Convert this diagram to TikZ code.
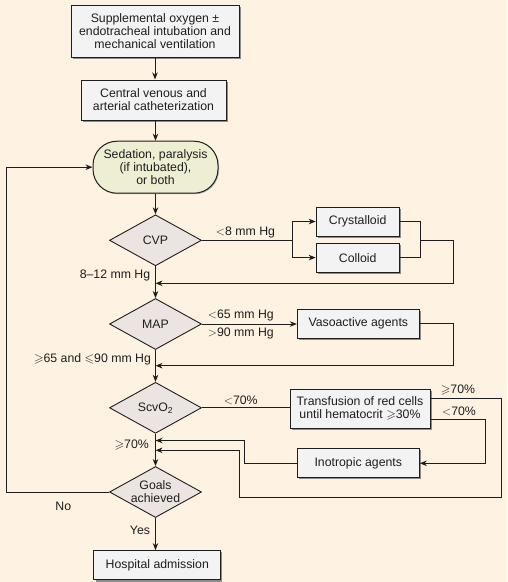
\documentclass[tikz,border=0pt]{standalone}
\usepackage{fontspec}
\setmainfont{Liberation Sans}
\usepackage{amssymb}
\usetikzlibrary{arrows.meta,shapes.geometric,shadows}
\definecolor{bg}{HTML}{FEF3E2}
\definecolor{boxfill}{HTML}{F3F3F3}
\definecolor{diafill}{HTML}{ECE4E0}
\definecolor{stadfill}{HTML}{EEEED2}
\definecolor{linec}{HTML}{1E1E1E}
\begin{document}
\begin{tikzpicture}[x=1pt,y=-1pt,
  font=\fontsize{12.3}{13}\selectfont,
  every node/.style={inner sep=0pt, align=center, text=linec},
  shad/.style={drop shadow={shadow xshift=1.6pt,shadow yshift=-1.6pt,fill=black!45,opacity=1}},
  lshad/.style={drop shadow={shadow xshift=1pt,shadow yshift=-1pt,fill=black!30,opacity=1}},
  box/.style={rectangle, draw=linec, line width=1pt, fill=boxfill, shad},
  dia/.style={diamond, draw=linec, line width=0.9pt, fill=diafill},
  stad/.style={rectangle, rounded corners=24pt, draw=linec, line width=1pt, fill=stadfill, lshad},
  conn/.style={draw=linec, line width=0.9pt},
  arr/.style={conn, -{Stealth[length=7pt,width=5.5pt,inset=2.2pt]}},
  lbl/.style={inner sep=0pt}
]
\useasboundingbox (0,0) rectangle (507,582);
\fill[bg] (0,0) rectangle (507,582);

% main column
\node[box, minimum width=168pt, minimum height=52pt] (b1) at (155,31)
  {Supplemental oxygen \textpm\\endotracheal intubation and\\mechanical ventilation};
\node[box, minimum width=145pt, minimum height=40pt] (b2) at (153.5,100)
  {Central venous and\\arterial catheterization};
\node[stad, minimum width=125pt, minimum height=52pt] (st) at (155.5,167.2)
  {Sedation, paralysis\\(if intubated),\\or both};
\node[dia, minimum width=92pt, minimum height=51pt] (cvp) at (155.5,240.3) {};
\node (cvpT) at (cvp) {CVP};
\node[dia, minimum width=92pt, minimum height=51pt] (map) at (155.5,324) {};
\node (mapT) at (map) {MAP};
\node[dia, minimum width=92pt, minimum height=51pt] (scv) at (155.5,407.8) {};
\node (scvT) at (scv) {ScvO\textsubscript{2}};
\node[dia, minimum width=92pt, minimum height=51pt] (goals) at (155.5,492) {};
\node (goalsT) at (goals) {Goals\\achieved};
\node[box, minimum width=126.7pt, minimum height=29.3pt] (hosp) at (157.3,565.3) {Hospital admission};

% right side
\node[box, minimum width=83pt, minimum height=29pt] (cry) at (357.7,221.5) {Crystalloid};
\node[box, minimum width=83pt, minimum height=29pt] (col) at (357.7,257.6) {Colloid};
\node[box, minimum width=122pt, minimum height=29pt] (vaso) at (358.3,323.5) {Vasoactive agents};
\node[box, minimum width=140pt, minimum height=39pt, font=\fontsize{12.3}{13.6}\selectfont] (tr) at (360,408.5)
  {Transfusion of red cells\\until hematocrit $\geqslant$30\%};
\node[box, minimum width=122pt, minimum height=29pt] (ino) at (358.3,463.3) {Inotropic agents};

% main arrows
\draw[arr] (b1.south) -- (b1.south |- b2.north);
\draw[arr] (st.north |- b2.south) -- (st.north);
\draw[arr] (st.south) -- (cvp.north);
\draw[arr] (cvp.south) -- (map.north);
\draw[arr] (map.south) -- (scv.north);
\draw[arr] (scv.south) -- (goals.north);
\draw[arr] (goals.south) -- (goals.south |- hosp.north);

% CVP branch
\coordinate (sp) at (292,240.3);
\coordinate (jn) at (420.7,240.3);
\coordinate (r1) at (453.3,283.3);
\draw[conn] (cvp.east) -- (sp);
\draw[arr] (sp) |- (cry.west);
\draw[arr] (sp) |- (col.west);
\draw[conn] (cry.east) -| (jn);
\draw[conn] (col.east) -| (jn);
\draw[arr] (jn) -| (r1) -- (cvp.south |- r1);
\node[lbl] (l1) at (245.5,232.3) {$<$8 mm Hg};
\node[lbl] (l2) at (115,275) {8\textendash12 mm Hg};

% MAP branch
\coordinate (r2) at (453.3,365.7);
\draw[arr] (map.east) -- (map.east -| vaso.west);
\draw[arr] (vaso.east) -| (r2) -- (map.south |- r2);
\node[lbl] (l3) at (240.8,315) {$<$65 mm Hg};
\node[lbl] (l4) at (240.8,333.3) {$>$90 mm Hg};
\node[lbl] (l5) at (92.5,359) {$\geqslant$65 and $\leqslant$90 mm Hg};

% ScvO2 branch
\draw[conn] (scv.east) -- (scv.east -| tr.west);
\node[lbl] (l6) at (240.8,400) {$<$70\%};
\coordinate (t1) at (430,398.3);
\coordinate (t2) at (501.7,497.7);
\coordinate (t3) at (239.3,450.3);
\draw[arr] (t1) -| (t2) -| (t3) -- (scv.south |- t3);
\coordinate (u1) at (430,419);
\coordinate (u2) at (485,463.3);
\draw[arr] (u1) -| (u2) -- (ino.east);
\coordinate (v1) at (244,440.5);
\draw[arr] (ino.west) -| (v1) -- (scv.south |- v1);
\node[lbl] (l7) at (458,390) {$\geqslant$70\%};
\node[lbl] (l8) at (459,411) {$<$70\%};
\node[lbl] (l9) at (131.7,445) {$\geqslant$70\%};

% goals
\coordinate (n1) at (6.7,167.2);
\draw[arr] (goals.west) -| (n1) -- (st.west);
\node[lbl] (l10) at (63.3,506) {No};
\node[lbl] (l11) at (140,530.7) {Yes};
\end{tikzpicture}
\end{document}
